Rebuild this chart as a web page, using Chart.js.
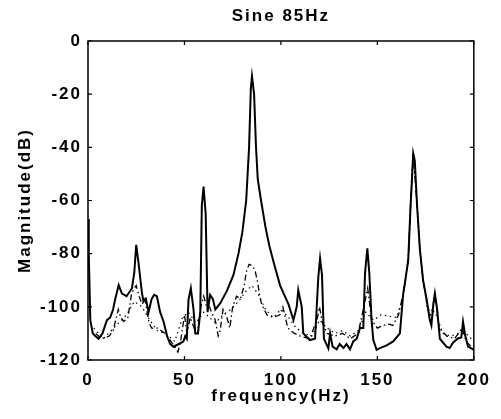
<!DOCTYPE html>
<html>
<head>
<meta charset="utf-8">
<script src="https://cdn.jsdelivr.net/npm/chart.js@4/dist/chart.umd.min.js"></script>
<style>
html,body{margin:0;padding:0;background:#fff;}
#wrap{width:501px;height:419px;}
</style>
</head>
<body>
<div id="wrap"><canvas id="c" width="501" height="419"></canvas></div>
<script>
const chartTitle = "Sine 85Hz";
const xTitle = "frequency(Hz)";
const yTitle = "Magnitude(dB)";
const xTicks = [0, 50, 100, 150, 200];
const yTicks = [0, -20, -40, -60, -80, -100, -120];

const freqSolid = [0, 0.4, 1.2, 2.5, 3.8, 5.5, 7.5, 9.8, 11.5, 13, 14, 15.9, 17.6, 20, 22.8, 24, 25, 26.2, 28, 28.8, 30, 31.4, 33, 34.3, 35.7, 37.4, 39.2, 41, 42.6, 44.3, 47.8, 49.5, 50.4, 51.2, 52.1, 53.3, 54.7, 55.6, 57, 58.2, 59, 59.9, 61, 62, 63.3, 64.7, 66, 68.5, 72, 75.4, 78, 80, 82, 83.5, 84.4, 85, 86.1, 87.1, 88, 89.7, 92, 94, 96.5, 99.6, 103.9, 106.5, 108.2, 109, 110.8, 111.6, 115, 117.7, 119.4, 120.3, 121.3, 122.3, 124.6, 125.5, 126.8, 128.9, 130.5, 132.4, 134, 135.8, 137.5, 139.3, 141, 142.7, 143.6, 144.8, 145.8, 147, 147.9, 149.6, 151.3, 154.8, 158.2, 161.7, 163.4, 164.3, 166, 167.2, 168.6, 169.4, 170.6, 172, 173.7, 175.5, 177.2, 178, 179, 179.8, 181, 182.4, 185.8, 187.5, 189.2, 191.7, 193.5, 194.4, 195.6, 197, 200];
const magSolid = [-67, -80, -105, -110, -111, -112, -110, -105, -104, -101, -97.4, -91.8, -95, -96, -93, -87, -76.7, -83.6, -95, -98, -97, -102, -97, -95.5, -96, -102, -105.6, -111, -114, -115, -113.7, -113, -111, -112, -97.4, -93, -101, -110, -110, -102, -62, -54.8, -65, -102, -95.5, -97, -101, -98.7, -94, -88, -80, -72, -60, -40, -18, -13.2, -20, -40, -52, -60, -70, -77, -84, -92, -99, -105, -100, -93.7, -100, -110, -112.5, -112, -88.7, -81.8, -88, -112, -115.6, -110, -115, -116, -114, -115.5, -114, -116, -113, -112, -108, -108, -87.4, -78, -87, -105, -112.5, -116.2, -115.5, -114.5, -113, -110, -95, -91, -82.4, -62.3, -42.3, -45, -62, -78, -90, -97, -105, -107, -99, -95, -101, -112, -115, -115.5, -113.5, -111.9, -111.5, -105.6, -111, -115, -116.2];

const freqDashDot = [4, 7, 9.3, 11, 13, 15.7, 17, 18.5, 20.7, 22.6, 24, 25, 26.5, 28, 29.5, 31.6, 33, 36, 40, 44, 46.6, 48, 50, 51.3, 53, 55, 57, 58.5, 60, 61.5, 63, 64, 66, 67.5, 68.5, 70, 72, 73.5, 75, 77, 79, 81, 82, 83.5, 85, 86.5, 88, 89, 90, 92.7, 96, 99.5, 101, 103.6, 107, 110, 115, 119, 120, 121.5, 124, 128, 132, 136, 140, 143, 145, 147, 150, 153, 156, 158, 161, 163.4, 166, 167.2, 168.6, 170.6, 172, 173.7, 177, 179, 180, 182, 186, 190, 194, 196, 200];
const magDashDot = [-110, -112, -111.5, -111, -109, -101, -104, -105.5, -104, -95, -93, -92, -96, -99, -97, -106, -108, -108, -110, -114, -117, -113, -103, -110, -104, -108, -108, -100, -96, -100, -100, -102, -105, -111, -109, -101, -104, -108, -100, -96, -97, -92, -87, -84, -84.5, -86, -91, -96, -99, -103, -104, -103, -100, -108, -110, -111, -112, -104, -100, -106, -110, -111, -110, -112, -110, -100, -93, -105, -108, -107, -106.5, -107, -103, -95, -82.4, -62.3, -42.3, -62, -78, -90, -104, -100, -96, -108, -111, -112, -108, -113, -116];

const freqDotted = [3, 8, 12, 16, 20, 24, 28, 32, 36, 40, 45, 49, 52, 56, 60, 63, 66, 70, 74, 78, 82, 85, 88, 92, 96, 100, 104, 108, 112, 116, 120, 124, 128, 132, 136, 140, 144, 148, 152, 156, 160, 163.4, 166, 167.2, 168.6, 170.6, 172, 173.7, 176, 180, 184, 188, 192, 196, 200];
const magDotted = [-108, -112, -109, -106, -103, -98, -100, -105, -109, -110, -113, -104, -102, -106, -102, -104, -106, -103, -101, -98, -94, -92, -95, -101, -104, -101, -104, -108, -110, -111, -105, -108, -110, -109, -111, -109, -102, -105, -103, -103.5, -104, -96, -82.4, -62.3, -42.3, -62, -78, -90, -101, -102, -110, -111, -110, -110, -113];

function pts(xs, ys) { return xs.map((x, i) => ({x: x, y: ys[i]})); }

const FONT = "'Liberation Sans', Arial, Helvetica, sans-serif";
const SPACING = '2px';

const framePlugin = {
  id: 'frame',
  beforeUpdate(chart) { chart.ctx.letterSpacing = SPACING; },
  beforeLayout(chart) { chart.ctx.letterSpacing = SPACING; },
  beforeDraw(chart) { chart.ctx.letterSpacing = SPACING; },
  afterDatasetsDraw(chart) {
    const ctx = chart.ctx;
    const a = chart.chartArea;
    const xs = chart.scales.x, ys = chart.scales.y;
    ctx.save();
    ctx.strokeStyle = '#000';
    ctx.lineWidth = 1.5;
    ctx.strokeRect(a.left, a.top, a.right - a.left, a.bottom - a.top);
    ctx.lineWidth = 1.2;
    const L = 4;
    ctx.beginPath();
    xTicks.forEach(v => {
      const px = xs.getPixelForValue(v);
      ctx.moveTo(px, a.bottom); ctx.lineTo(px, a.bottom - L);
      ctx.moveTo(px, a.top); ctx.lineTo(px, a.top + L);
    });
    yTicks.forEach(v => {
      const py = ys.getPixelForValue(v);
      ctx.moveTo(a.left, py); ctx.lineTo(a.left + L, py);
      ctx.moveTo(a.right, py); ctx.lineTo(a.right - L, py);
    });
    ctx.stroke();
    ctx.restore();
  }
};

new Chart(document.getElementById('c'), {
  type: 'line',
  data: {
    datasets: [
      { label: 'solid', data: pts(freqSolid, magSolid), borderColor: '#000', borderWidth: 2, pointRadius: 0, tension: 0, order: 1 },
      { label: 'dashdot', data: pts(freqDashDot, magDashDot), borderColor: '#000', borderWidth: 1.3, borderDash: [6, 3, 1.5, 3], pointRadius: 0, tension: 0, order: 2 },
      { label: 'dotted', data: pts(freqDotted, magDotted), borderColor: '#000', borderWidth: 1.2, borderDash: [1.5, 3.5], pointRadius: 0, tension: 0, order: 3 }
    ]
  },
  options: {
    responsive: false,
    animation: false,
    devicePixelRatio: 1,
    layout: { padding: { left: 0, right: 27, top: 0, bottom: 0 } },
    plugins: {
      legend: { display: false },
      tooltip: { enabled: false },
      title: {
        display: true, fullSize: false, text: chartTitle, color: '#000',
        font: { family: FONT, size: 17, weight: 'bold', lineHeight: 1.2 },
        padding: { top: 6, bottom: 14.6 }
      }
    },
    scales: {
      x: {
        type: 'linear', min: 0, max: 200,
        afterBuildTicks(s) { s.ticks = xTicks.map(v => ({value: v})); },
        afterFit(s) { s.height = 59; },
        grid: { display: false, drawTicks: false },
        border: { display: false },
        ticks: { color: '#000', padding: 10, maxRotation: 0, font: { family: FONT, size: 17, weight: 'bold' } },
        title: { display: true, text: xTitle, color: '#000', padding: { top: 0, bottom: 12 }, font: { family: FONT, size: 17, weight: 'bold', lineHeight: 1.2 } }
      },
      y: {
        type: 'linear', min: -120, max: 0,
        afterBuildTicks(s) { s.ticks = yTicks.map(v => ({value: v})); },
        afterFit(s) { s.width = 88; },
        grid: { display: false, drawTicks: false },
        border: { display: false },
        ticks: { color: '#000', padding: 6, font: { family: FONT, size: 17, weight: 'bold' } },
        title: { display: true, text: yTitle, color: '#000', padding: { top: 15, bottom: 0 }, font: { family: FONT, size: 17, weight: 'bold', lineHeight: 1.2 } }
      }
    }
  },
  plugins: [framePlugin]
});
</script>
</body>
</html>
